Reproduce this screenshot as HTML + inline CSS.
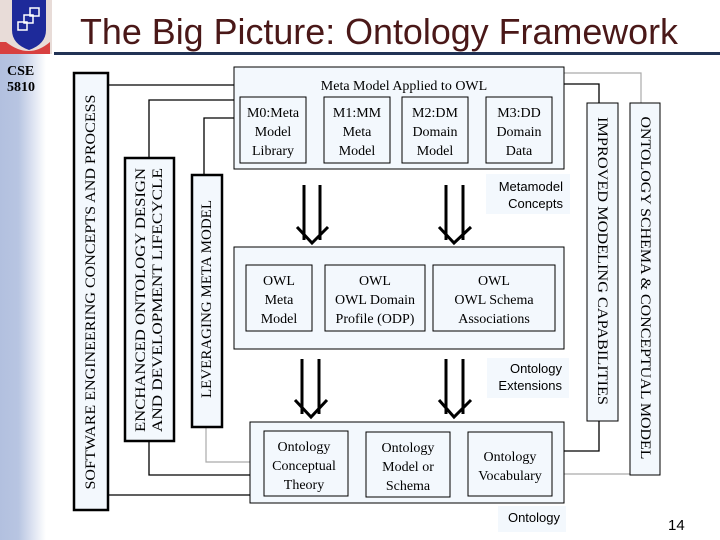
<!DOCTYPE html>
<html><head><meta charset="utf-8"><style>
html,body{margin:0;padding:0;background:#fff;}
body{width:720px;height:540px;overflow:hidden;position:relative;font-family:"Liberation Serif",serif;}
.side{position:absolute;left:0;top:0;width:46px;height:540px;background:linear-gradient(to right,#b2c0df 0%,#b8c5e2 40%,#fff 100%);}
</style></head><body>
<div class="side"></div>
<svg width="720" height="540" style="position:absolute;left:0;top:0" font-family="Liberation Serif, serif">
<!-- logo -->
<rect x="0" y="0" width="52" height="54" fill="#e8dcd8"/>
<path d="M12 0 H46 V30 Q46 44 29 50 Q12 44 12 30 Z" fill="#1e2a9a"/>
<path d="M6 42 Q29 60 50 42 L50 54 L0 54 L0 42Z" fill="#d84040"/>
<g stroke="#fff" stroke-width="1.5" fill="none"><rect x="18" y="22" width="9" height="8"/><rect x="24" y="15" width="9" height="8"/><rect x="30" y="8" width="9" height="8"/></g>
<!-- title -->
<text x="80" y="44" font-family="Liberation Sans, sans-serif" font-size="36" fill="#4a1818" textLength="598" lengthAdjust="spacingAndGlyphs">The Big Picture: Ontology Framework</text>
<rect x="54" y="52" width="666" height="3" fill="#223355"/>
<text x="7" y="75" font-size="14" font-weight="bold">CSE</text>
<text x="7" y="91" font-size="14" font-weight="bold">5810</text>

<g stroke="#000" stroke-width="1.3" fill="none">
<polyline points="108,85 234,85"/>
<polyline points="149,158 149,100 234,100"/>
<polyline points="204,175 204,118 234,118"/>
<polyline points="149,441 149,475 250,475"/>
<polyline points="108,495 250,495"/>
<polyline points="564,84 599,84 599,103"/>
<polyline points="599,421 599,451 564,451"/>
</g>
<g stroke="#aaa" stroke-width="1.2" fill="none">
<polyline points="206,427 206,462 250,462"/>
<polyline points="564,73 641,73 641,103"/>
<polyline points="564,474 630,474"/>
</g>

<g fill="#f3f8fd" stroke="#000">
<rect x="74" y="73" width="34" height="437" stroke-width="2.5"/>
<rect x="125" y="158" width="49" height="283" stroke-width="2.5"/>
<rect x="192" y="175" width="30" height="252" stroke-width="2.5"/>
<rect x="234" y="67" width="330" height="102" stroke-width="1"/>
<rect x="240" y="97" width="66" height="66"/>
<rect x="324" y="97" width="66" height="66"/>
<rect x="402" y="97" width="66" height="66"/>
<rect x="486" y="97" width="66" height="66"/>
<rect x="234" y="247" width="330" height="102"/>
<rect x="246" y="265" width="66" height="66"/>
<rect x="325" y="265" width="100" height="66"/>
<rect x="433" y="265" width="122" height="66"/>
<rect x="250" y="422" width="314" height="81"/>
<rect x="264" y="431" width="84" height="65"/>
<rect x="366" y="432" width="84" height="65"/>
<rect x="468" y="432" width="84" height="64"/>
<rect x="587" y="103" width="31" height="318"/>
<rect x="630" y="103" width="30" height="372"/>
</g>
<rect x="486" y="174" width="84" height="40" fill="#f3f8fd"/>
<rect x="487" y="358" width="82" height="40" fill="#f3f8fd"/>
<rect x="498" y="506" width="68" height="26" fill="#f3f8fd"/>

<g font-size="15" text-anchor="middle" fill="#000" lengthAdjust="spacingAndGlyphs">
<text x="91" y="292" transform="rotate(-90 91 292)" dominant-baseline="central" textLength="395" lengthAdjust="spacingAndGlyphs">SOFTWARE ENGINEERING CONCEPTS AND PROCESS</text>
<text x="141" y="300" transform="rotate(-90 141 300)" dominant-baseline="central" textLength="264" lengthAdjust="spacingAndGlyphs">ENCHANCED ONTOLOGY DESIGN</text>
<text x="158" y="300" transform="rotate(-90 158 300)" dominant-baseline="central" textLength="264" lengthAdjust="spacingAndGlyphs">AND DEVELOPMENT LIFECYCLE</text>
<text x="207" y="299" transform="rotate(-90 207 299)" dominant-baseline="central" textLength="198" lengthAdjust="spacingAndGlyphs">LEVERAGING META MODEL</text>
<text x="602" y="261" transform="rotate(90 602 261)" dominant-baseline="central" textLength="288" lengthAdjust="spacingAndGlyphs">IMPROVED MODELING CAPABILITIES</text>
<text x="645" y="288" transform="rotate(90 645 288)" dominant-baseline="central" textLength="343" lengthAdjust="spacingAndGlyphs">ONTOLOGY SCHEMA &amp; CONCEPTUAL MODEL</text>
</g>
<g font-size="14" text-anchor="middle" fill="#000">
<text x="404" y="90">Meta Model Applied to OWL</text>
<text x="273" y="117">M0:Meta</text><text x="273" y="136">Model</text><text x="273" y="155">Library</text>
<text x="357" y="117">M1:MM</text><text x="357" y="136">Meta</text><text x="357" y="155">Model</text>
<text x="435" y="117">M2:DM</text><text x="435" y="136">Domain</text><text x="435" y="155">Model</text>
<text x="519" y="117">M3:DD</text><text x="519" y="136">Domain</text><text x="519" y="155">Data</text>
<text x="279" y="285">OWL</text><text x="279" y="304">Meta</text><text x="279" y="323">Model</text>
<text x="375" y="285">OWL</text><text x="375" y="304">OWL Domain</text><text x="375" y="323">Profile (ODP)</text>
<text x="494" y="285">OWL</text><text x="494" y="304">OWL Schema</text><text x="494" y="323">Associations</text>
<text x="304" y="451">Ontology</text><text x="304" y="470">Conceptual</text><text x="304" y="489">Theory</text>
<text x="408" y="452">Ontology</text><text x="408" y="471">Model or</text><text x="408" y="490">Schema</text>
<text x="510" y="461">Ontology</text><text x="510" y="480">Vocabulary</text>
</g>
<g font-family="Liberation Sans, sans-serif" font-size="13" text-anchor="end" fill="#000">
<text x="563" y="191">Metamodel</text><text x="563" y="208">Concepts</text>
<text x="562" y="373">Ontology</text><text x="562" y="390">Extensions</text>
<text x="560" y="522">Ontology</text>
</g>
<text x="668" y="530" font-family="Liberation Sans, sans-serif" font-size="15">14</text>

<g stroke="#000" stroke-width="3" fill="none">
<line x1="304" y1="185" x2="304" y2="240"/><line x1="320" y1="185" x2="320" y2="240"/>
<polyline points="297,227 312,243 328,227"/>
<line x1="446" y1="185" x2="446" y2="240"/><line x1="463" y1="185" x2="463" y2="240"/>
<polyline points="439,227 454,243 471,227"/>
<line x1="302" y1="359" x2="302" y2="414"/><line x1="319" y1="359" x2="319" y2="414"/>
<polyline points="295,400 311,417 327,400"/>
<line x1="446" y1="359" x2="446" y2="414"/><line x1="463" y1="359" x2="463" y2="414"/>
<polyline points="439,400 454,417 471,400"/>
</g>
</svg>
</body></html>
